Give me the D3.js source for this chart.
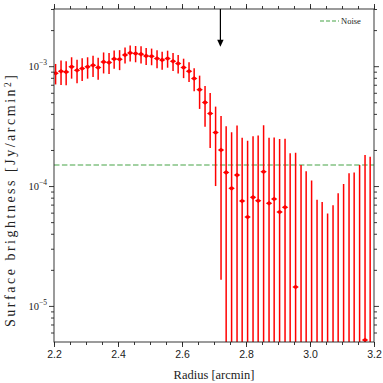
<!DOCTYPE html>
<html>
<head>
<meta charset="utf-8">
<script src="https://cdn.jsdelivr.net/npm/d3@7"></script>
<style>
body { margin: 0; background: #fff; }
svg { display: block; font-family: "Liberation Serif", "DejaVu Serif", serif; }
</style>
</head>
<body>
<svg class="mainsvg" width="383" height="383"></svg>
<script>
// radial bins [arcmin]
var radius = [
  2.205, 2.222, 2.238, 2.255, 2.272, 2.288, 2.305, 2.322, 2.338, 2.355,
  2.372, 2.388, 2.405, 2.422, 2.438, 2.455, 2.472, 2.488, 2.505, 2.522,
  2.538, 2.555, 2.572, 2.588, 2.605, 2.622, 2.638, 2.655, 2.672, 2.688,
  2.705, 2.722, 2.738, 2.755, 2.772, 2.788, 2.805, 2.822, 2.838, 2.855,
  2.872, 2.888, 2.905, 2.922, 2.938, 2.955, 2.972, 2.988, 3.005, 3.022,
  3.038, 3.055, 3.072, 3.088, 3.105, 3.122, 3.138, 3.155, 3.172, 3.188
];
// surface brightness [1e-4 Jy/arcmin^2]
var brightness = [
  8.74, 9.08, 8.96, 9.87, 9.26, 9.57, 9.87, 10.19, 9.75, 10.86,
  10.74, 11.50, 11.44, 12.42, 12.91, 12.76, 12.60, 12.19, 12.10, 11.59,
  11.28, 11.59, 11.00, 10.53, 9.75, 9.08, 7.90, 6.37, 4.99, 4.03,
  2.80, 2.00, 1.30, 0.957, 1.234, 0.750, 0.552, 0.805, 0.755, 1.315,
  0.718, 0.779, 0.607, 0.665, -0.20, 0.144, -0.10, -0.20, -0.30, -0.60,
  -0.70, -0.80, -0.60, -0.50, -0.40, -0.30, -0.30, -0.20, 0.052, -0.10
];
// 1-sigma errors [1e-4 Jy/arcmin^2]
var errors = [
  1.70, 2.10, 2.03, 2.00, 2.05, 2.05, 2.00, 2.06, 2.03, 2.16,
  2.15, 2.00, 2.17, 1.90, 1.95, 1.98, 2.05, 1.97, 1.92, 2.00,
  1.94, 1.88, 1.90, 1.85, 1.80, 1.70, 1.73, 1.97, 1.86, 1.95,
  1.80, 1.835, 1.86, 1.86, 1.97, 1.78, 1.83, 1.80, 1.89, 1.90,
  1.81, 1.76, 1.86, 1.82, 2.08, 1.75, 1.60, 1.53, 1.41, 1.37,
  1.435, 1.39, 1.29, 1.37, 1.44, 1.58, 1.60, 1.70, 1.76, 1.86
];
var unit = 1e-4;
var noiseLevel = 1.5e-4;
var arrowRadius = 2.72;
var arrowTop = 3e-3, arrowTip = 1.45e-3;

var xTicks = [2.2, 2.4, 2.6, 2.8, 3.0, 3.2];
var yTicks = [1e-5, 1e-4, 1e-3];
var yTickExp = ["\u22125", "\u22124", "\u22123"];

var plotLeft = 54, plotRight = 374, plotTop = 9, plotBottom = 342;
var ink = "#222";

var svg = d3.select(".mainsvg");

var x = d3.scaleLinear().domain([2.2, 3.2]).range([plotLeft, plotRight]);
var y = d3.scaleLog().domain([5e-6, 3e-3]).range([plotBottom, plotTop]);

var points = radius.map(function (r, i) {
    return { r: r, v: brightness[i] * unit, e: errors[i] * unit };
});

svg.append("defs").append("clipPath").attr("id", "plotclip")
    .append("rect")
    .attr("x", plotLeft).attr("y", plotTop)
    .attr("width", plotRight - plotLeft).attr("height", plotBottom - plotTop);

var plot = svg.append("g").attr("clip-path", "url(#plotclip)");

// noise level
plot.append("line")
    .attr("x1", plotLeft).attr("x2", plotRight)
    .attr("y1", y(noiseLevel)).attr("y2", y(noiseLevel))
    .attr("stroke", "#84c284")
    .attr("stroke-width", 1.4)
    .attr("stroke-dasharray", "5.5,2.4");

// error bars (lower end clipped where it goes negative)
plot.selectAll(".ebar")
    .data(points)
    .enter().append("line")
    .attr("class", "ebar")
    .attr("x1", function (d) { return x(d.r); })
    .attr("x2", function (d) { return x(d.r); })
    .attr("y1", function (d) { return y(Math.max(d.v - d.e, 1e-7)); })
    .attr("y2", function (d) { return y(d.v + d.e); })
    .attr("stroke", "#ff0000")
    .attr("stroke-width", 1.5);

// markers
plot.selectAll(".pt")
    .data(points.filter(function (d) { return d.v > 0; }))
    .enter().append("path")
    .attr("class", "pt")
    .attr("d", "M-3.2,0L0,-2.3L3.2,0L0,2.3Z")
    .attr("transform", function (d) { return "translate(" + x(d.r) + "," + y(d.v) + ")"; })
    .attr("fill", "#ff0000");

// axes, ticks point outward on all four sides
var minorX = d3.range(2.2, 3.2001, 0.05);
var minorY = [];
[1e-6, 1e-5, 1e-4, 1e-3].forEach(function (p) {
    for (var k = 2; k <= 9; k++) {
        var v = k * p;
        if (v >= 5e-6 && v <= 3e-3) minorY.push(v);
    }
});

function styleAxis(g) {
    g.select(".domain").remove();
    g.selectAll("line").attr("stroke", ink).attr("stroke-width", 0.9);
    g.selectAll("text").attr("fill", ink);
}

svg.append("g").attr("transform", "translate(0," + plotBottom + ")")
    .call(d3.axisBottom(x).tickValues(minorX).tickSize(3).tickFormat(""))
    .call(styleAxis);
svg.append("g").attr("transform", "translate(0," + plotBottom + ")")
    .call(d3.axisBottom(x).tickValues(xTicks).tickSize(5).tickPadding(4).tickFormat(d3.format(".1f")))
    .call(styleAxis)
    .selectAll("text").style("font-size", "10.5px").attr("font-family", null);
svg.append("g").attr("transform", "translate(0," + plotTop + ")")
    .call(d3.axisTop(x).tickValues(minorX).tickSize(3).tickFormat(""))
    .call(styleAxis);
svg.append("g").attr("transform", "translate(0," + plotTop + ")")
    .call(d3.axisTop(x).tickValues(xTicks).tickSize(5).tickFormat(""))
    .call(styleAxis);

svg.append("g").attr("transform", "translate(" + plotLeft + ",0)")
    .call(d3.axisLeft(y).tickValues(minorY).tickSize(3).tickFormat(""))
    .call(styleAxis);
svg.append("g").attr("transform", "translate(" + plotLeft + ",0)")
    .call(d3.axisLeft(y).tickValues(yTicks).tickSize(5).tickFormat(""))
    .call(styleAxis);
svg.append("g").attr("transform", "translate(" + plotRight + ",0)")
    .call(d3.axisRight(y).tickValues(minorY).tickSize(3).tickFormat(""))
    .call(styleAxis);
svg.append("g").attr("transform", "translate(" + plotRight + ",0)")
    .call(d3.axisRight(y).tickValues(yTicks).tickSize(5).tickFormat(""))
    .call(styleAxis);

// y tick labels 10^n
var ylab = svg.selectAll(".ylab")
    .data(yTicks)
    .enter().append("text")
    .attr("class", "ylab")
    .attr("x", plotLeft - 7)
    .attr("y", function (d) { return y(d) + 4; })
    .attr("text-anchor", "end")
    .attr("fill", ink)
    .style("font-size", "10.5px");
ylab.append("tspan").text("10");
ylab.append("tspan")
    .attr("dy", -5)
    .style("font-size", "7.5px")
    .text(function (d, i) { return yTickExp[i]; });

// frame
svg.append("rect")
    .attr("x", plotLeft).attr("y", plotTop)
    .attr("width", plotRight - plotLeft).attr("height", plotBottom - plotTop)
    .attr("fill", "none")
    .attr("stroke", ink)
    .attr("stroke-width", 0.9);

// arrow marking the edge
var ax = x(arrowRadius);
svg.append("line")
    .attr("x1", ax).attr("x2", ax)
    .attr("y1", y(arrowTop)).attr("y2", y(arrowTip) - 5)
    .attr("stroke", "#000").attr("stroke-width", 1.2);
svg.append("path")
    .attr("d", "M" + (ax - 3.2) + "," + (y(arrowTip) - 7) + "L" + (ax + 3.2) + "," + (y(arrowTip) - 7) + "L" + ax + "," + y(arrowTip) + "Z")
    .attr("fill", "#000");

// legend
svg.append("line")
    .attr("x1", 320).attr("x2", 339)
    .attr("y1", 21).attr("y2", 21)
    .attr("stroke", "#84c284")
    .attr("stroke-width", 1.4)
    .attr("stroke-dasharray", "4,2");
svg.append("text")
    .attr("x", 341).attr("y", 24)
    .attr("fill", ink)
    .style("font-size", "8.5px")
    .text("Noise");

// axis titles
svg.append("text")
    .attr("x", (plotLeft + plotRight) / 2).attr("y", 379)
    .attr("text-anchor", "middle")
    .attr("fill", ink)
    .style("font-size", "12.5px")
    .text("Radius [arcmin]");

var ytitle = svg.append("text")
    .attr("transform", "translate(15,201) rotate(-90)")
    .attr("text-anchor", "middle")
    .attr("fill", ink)
    .attr("textLength", 252)
    .attr("lengthAdjust", "spacing")
    .style("font-size", "14px");
ytitle.append("tspan").text("Surface brightness [Jy/arcmin");
ytitle.append("tspan").attr("dy", -4).style("font-size", "9.5px").text("2");
ytitle.append("tspan").attr("dy", 4).text("]");
</script>
</body>
</html>
